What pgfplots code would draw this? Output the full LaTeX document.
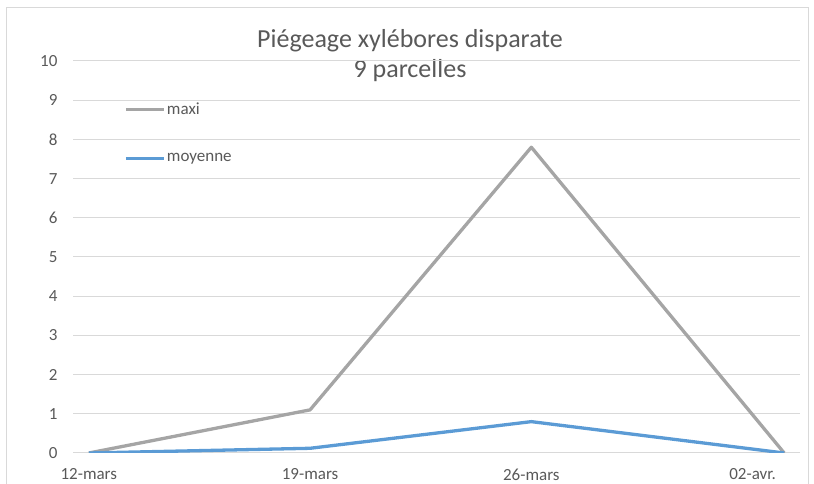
\documentclass[border=0pt]{standalone}
\usepackage{pgfplots}
\pgfplotsset{compat=1.18}
\usepackage{fontspec}
\setmainfont{Carlito}
\definecolor{maxic}{HTML}{A5A5A5}
\definecolor{moyc}{HTML}{5B9BD5}
\definecolor{gridc}{HTML}{D9D9D9}
\definecolor{txt}{HTML}{595959}
\begin{document}
\begin{tikzpicture}[x=1pt,y=1pt]
\useasboundingbox (0,0) rectangle (814,484);
\draw[gridc, line width=1pt] (6,-10) -- (6,476) -- (808,476) -- (808,-10);
\node[txt, font=\fontsize{26}{30}\selectfont, anchor=base] at (410,436) {Piégeage xylébores disparate};
\node[txt, font=\fontsize{26}{30}\selectfont, anchor=base] at (410,406) {9 parcelles};
\begin{axis}[at={(73pt,31pt)}, anchor=south west, scale only axis,
  width=727pt, height=392pt,
  xmin=-0.5, xmax=22.5, ymin=0, ymax=10,
  xtick={0,7,14,21}, xticklabels={12-mars,19-mars,26-mars,02-avr.},
  ytick={0,1,...,10},
  ymajorgrids, grid style={gridc, line width=1pt},
  axis x line*=bottom, axis y line*=left,
  x axis line style={gridc, line width=1pt, -},
  y axis line style={draw=none},
  major tick length=0pt,
  tick label style={txt, font=\fontsize{17}{20}\selectfont},
  yticklabel style={xshift=-12pt},
  xticklabel style={yshift=-12pt},
  /pgf/number format/assume math mode=true,
  legend cell align=left,
  legend image code/.code={\draw[#1] (0pt,0pt) -- (38pt,0pt);},
  legend style={at={(rel axis cs:0.066,0.902)}, anchor=north west, draw=none, fill=none,
    font=\fontsize{17}{19}\selectfont, text=txt, row sep=34pt,
    /tikz/every even column/.append style={column sep=0pt},
    nodes={inner sep=1.5pt}},
]
\addplot[maxic, line width=3.3pt, line join=round] coordinates {(0,0) (7,1.1) (14,7.8) (22,0)};
\addlegendentry{maxi}
\addplot[moyc, line width=3.3pt, line join=round] coordinates {(0,0) (7,0.12) (14,0.8) (22,0)};
\addlegendentry{moyenne}
\end{axis}
\end{tikzpicture}
\end{document}
